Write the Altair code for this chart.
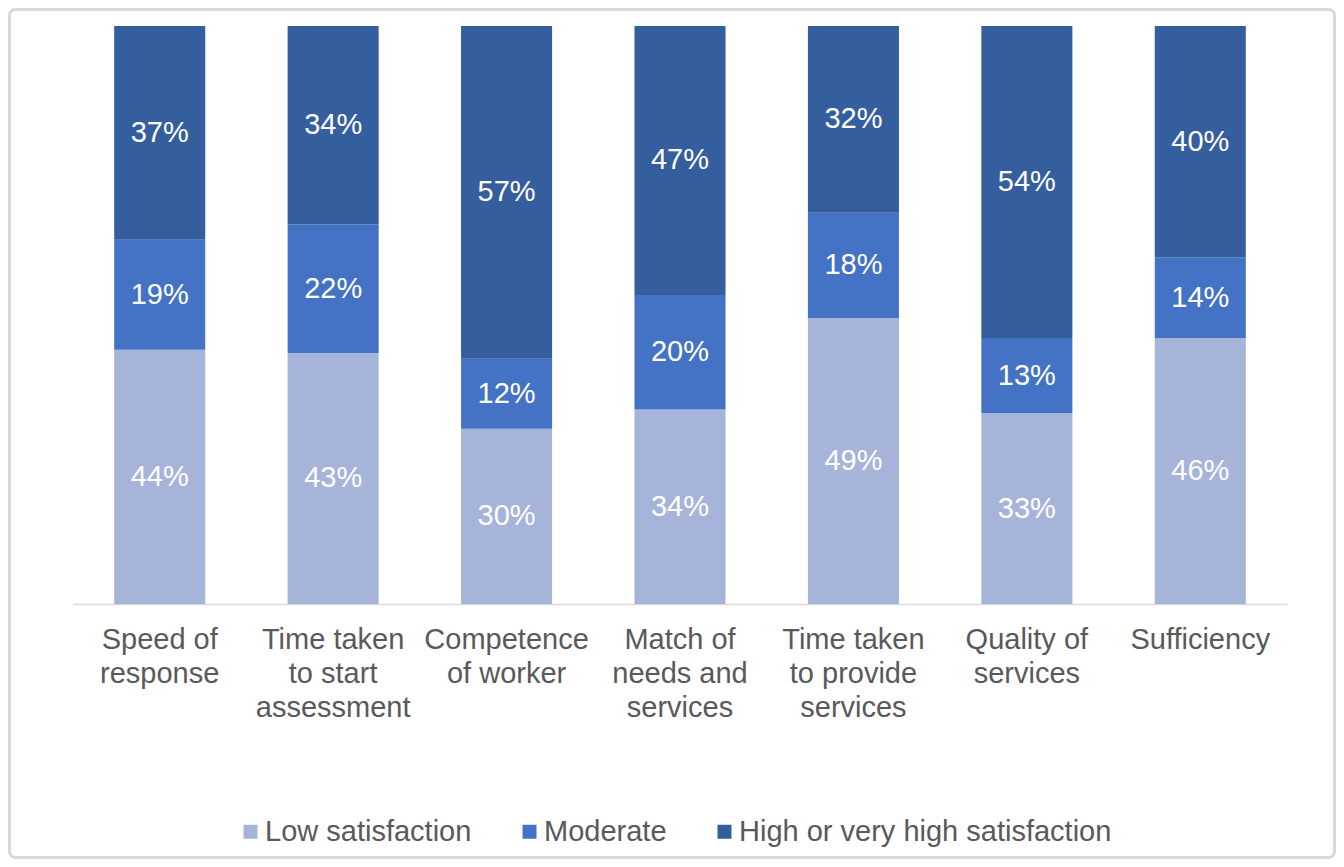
import altair as alt
import pandas as pd

categories = [
    "Speed of\nresponse",
    "Time taken\nto start\nassessment",
    "Competence\nof worker",
    "Match of\nneeds and\nservices",
    "Time taken\nto provide\nservices",
    "Quality of\nservices",
    "Sufficiency",
]
series = ["Low satisfaction", "Moderate", "High or very high satisfaction"]
low = [44, 43, 30, 34, 49, 33, 46]
moderate = [19, 22, 12, 20, 18, 13, 14]
high = [37, 34, 57, 47, 32, 54, 40]
colors = ["#A6B4DA", "#4472C4", "#355E9F"]

rows = []
for i, cat in enumerate(categories):
    for j, (s, vals) in enumerate(zip(series, [low, moderate, high])):
        rows.append({"category": cat, "series": s, "order": j, "value": vals[i]})
df = pd.DataFrame(rows)

FONT = "Liberation Sans"
W, H = 1214, 578

base = alt.Chart(df).transform_stack(
    stack="value",
    groupby=["category"],
    as_=["y0", "y1"],
    sort=[alt.SortField(field="order", order="ascending")],
    offset="normalize",
).transform_calculate(
    mid="(datum.y0 + datum.y1) / 2",
    label="datum.value + '%'",
)

xenc = alt.X(
    "category:N",
    sort=categories,
    scale=alt.Scale(paddingInner=0.475, paddingOuter=0.2375),
    axis=alt.Axis(
        title=None,
        labelAngle=0,
        labelExpr="split(datum.label, '\\n')",
        labelFont=FONT,
        labelFontSize=29,
        labelColor="#595959",
        labelLineHeight=34,
        labelPadding=21,
        ticks=False,
        domainColor="#D9D9D9",
        domainWidth=1.5,
        grid=False,
    ),
)

bars = base.mark_bar().encode(
    x=xenc,
    y=alt.Y("y0:Q", scale=alt.Scale(domain=[0, 1]), axis=None),
    y2="y1:Q",
    color=alt.Color(
        "series:N",
        scale=alt.Scale(domain=series, range=colors),
        legend=alt.Legend(
            title=None,
            orient="none",
            legendX=163,
            legendY=791,
            direction="horizontal",
            symbolType="square",
            symbolSize=196,
            symbolStrokeWidth=0,
            symbolOpacity=1,
            labelFont=FONT,
            labelFontSize=29,
            labelColor="#595959",
            labelLimit=0,
            labelOffset=0,
            columnPadding=43,
            padding=0,
        ),
    ),
)

text = base.mark_text(color="white", fontSize=29, font=FONT, baseline="middle").encode(
    x=alt.X("category:N", sort=categories),
    y=alt.Y("mid:Q", scale=alt.Scale(domain=[0, 1]), axis=None),
    text="label:N",
)

border = alt.Chart(alt.Data(values=[{}])).mark_rect(
    fill="transparent", stroke="#D9D9D9", strokeWidth=3, cornerRadius=6
).encode(
    x=alt.value(-63.5), x2=alt.value(W + 47.5),
    y=alt.value(-16.5), y2=alt.value(H + 253.5),
)

chart = alt.layer(border, bars, text).properties(
    width=W,
    height=H,
    autosize=alt.AutoSizeParams(type="none"),
    padding={"left": 65, "top": 18, "right": 49, "bottom": 255},
).configure_view(strokeWidth=0)

chart.save("out.html", embed_options={"renderer": "svg", "actions": False})
